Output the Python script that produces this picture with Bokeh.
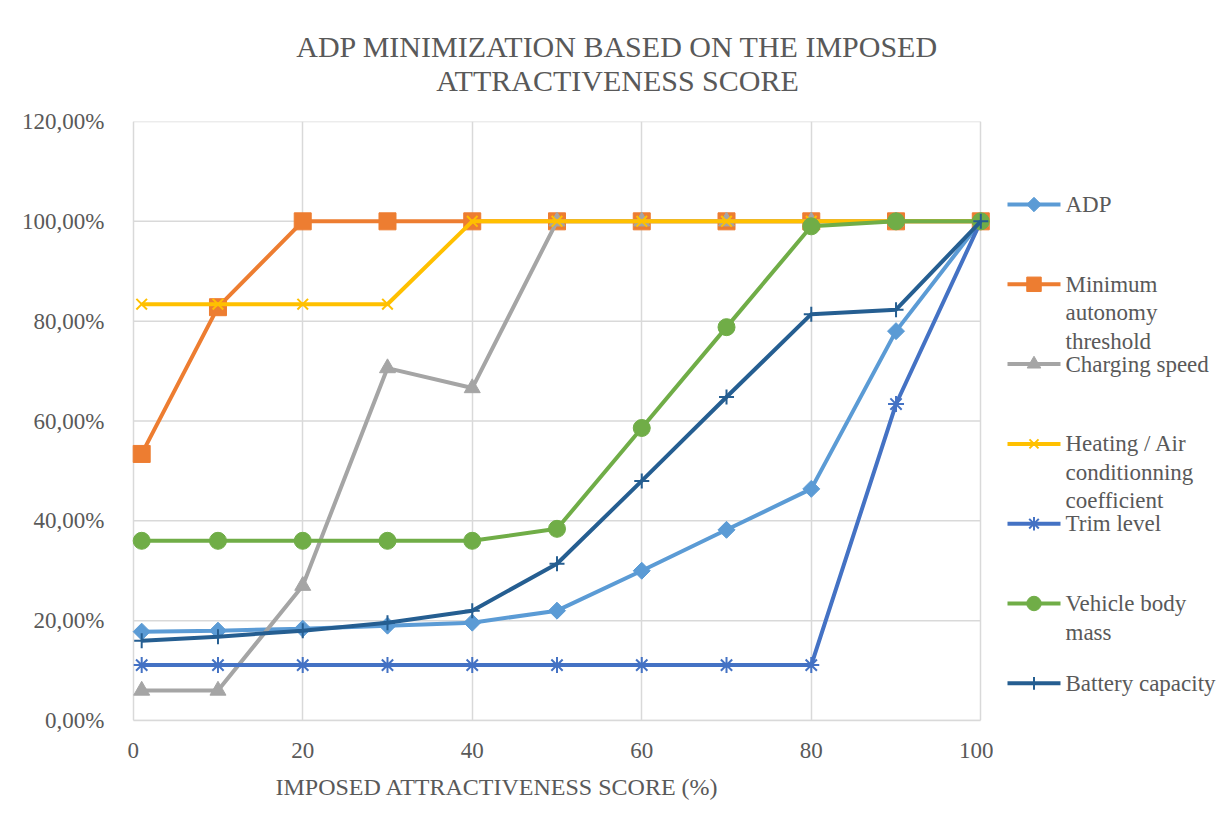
from bokeh.plotting import figure
from bokeh.models import Range1d, FixedTicker, CustomJSTickFormatter, Title
from bokeh.layouts import column, row
from bokeh.embed import file_html
from bokeh.resources import INLINE
from bokeh.core.properties import value

# ---------------- data ----------------
score = [1, 10, 20, 30, 40, 50, 60, 70, 80, 90, 100]

adp = [17.8, 18.0, 18.4, 19.0, 19.6, 22.0, 30.0, 38.2, 46.4, 78.0, 100.0]
min_autonomy = [53.4, 82.8, 100.0, 100.0, 100.0, 100.0, 100.0, 100.0, 100.0, 100.0, 100.0]
charging_speed = [6.0, 6.0, 27.0, 70.6, 66.6, 100.0, 100.0, 100.0, 100.0, 100.0, 100.0]
heating_ac = [83.4, 83.4, 83.4, 83.4, 100.0, 100.0, 100.0, 100.0, 100.0, 100.0, 100.0]
trim_level = [11.1, 11.1, 11.1, 11.1, 11.1, 11.1, 11.1, 11.1, 11.1, 63.4, 100.0]
body_mass = [36.0, 36.0, 36.0, 36.0, 36.0, 38.4, 58.6, 78.8, 99.0, 100.0, 100.0]
battery_capacity = [16.0, 16.8, 18.0, 19.6, 22.0, 31.4, 48.0, 64.8, 81.4, 82.3, 100.0]

series_names = ["ADP", "Minimum autonomy threshold", "Charging speed",
                "Heating / Air conditionning coefficient", "Trim level",
                "Vehicle body mass", "Battery capacity"]
legend_labels = ["ADP", "Minimum\nautonomy\nthreshold", "Charging speed",
                 "Heating / Air\nconditionning\ncoefficient", "Trim level",
                 "Vehicle body\nmass", "Battery capacity"]
series_values = [adp, min_autonomy, charging_speed, heating_ac, trim_level,
                 body_mass, battery_capacity]

x_ticks = [0, 20, 40, 60, 80, 100]
y_ticks = [0, 20, 40, 60, 80, 100, 120]

title_lines = ["ADP MINIMIZATION BASED ON THE IMPOSED", "ATTRACTIVENESS SCORE"]
x_title = "IMPOSED ATTRACTIVENESS SCORE (%)"

# ---------------- styles ----------------
FONT = "Liberation Serif"
TXT = "#595959"
GRID = "#d9d9d9"
colors = ["#5B9BD5", "#ED7D31", "#A5A5A5", "#FFC000", "#4472C4", "#70AD47", "#255E91"]
markers = ["square", "square", "triangle", "x", "asterisk", "circle", "cross"]
angles = [0.785398, 0, 0, 0, 0, 0, 0]
msizes = [12, 17, 16, 15, 16, 17, 15]
filled = [True, True, True, False, False, True, False]
mline = [1, 1, 1, 2, 2, 1, 2]
LINE_W = 4

# ---------------- title figure ----------------
TW, TH = 1225, 108
tf = figure(width=TW, height=TH, x_range=Range1d(0, TW), y_range=Range1d(TH, 0),
            toolbar_location=None, output_backend="svg", min_border=0)
tf.axis.visible = False
tf.grid.visible = False
tf.outline_line_color = None
tf.text(x=[617, 617], y=[46, 80], text=title_lines, text_align="center",
        text_baseline="middle", text_font=value(FONT), text_font_size="30px",
        text_color=TXT)

# ---------------- main figure ----------------
MB_TOP, MB_BOT, MH = 13, 93, 705
FH = MH - MB_TOP - MB_BOT
p = figure(width=993, height=MH, x_range=Range1d(-1.5, 101.5), y_range=Range1d(0, 120),
           toolbar_location=None, output_backend="svg",
           min_border_left=120, min_border_right=0, min_border_top=MB_TOP,
           min_border_bottom=MB_BOT)
p.outline_line_color = None

p.xaxis.ticker = FixedTicker(ticks=x_ticks)
p.yaxis.ticker = FixedTicker(ticks=y_ticks)
p.yaxis.formatter = CustomJSTickFormatter(code="return tick.toFixed(2).replace('.', ',') + '%';")
for ax in (p.xaxis[0], p.yaxis[0]):
    ax.major_tick_line_color = None
    ax.minor_tick_line_color = None
    ax.major_label_text_font = FONT
    ax.major_label_text_font_size = "23px"
    ax.major_label_text_color = TXT
p.xaxis.axis_line_color = GRID
p.xaxis.axis_line_width = 1.5
p.xaxis.bounds = (0, 100)
p.xaxis.major_label_standoff = 16
p.yaxis.axis_line_color = None
p.yaxis.major_label_standoff = 10

p.xgrid.ticker = FixedTicker(ticks=x_ticks)
p.xgrid.grid_line_color = GRID
p.xgrid.grid_line_width = 1.5
p.ygrid.visible = False
# horizontal gridlines limited to the 0..100 score span
n = len(y_ticks)
p.segment(x0=[x_ticks[0]] * n, x1=[x_ticks[-1]] * n, y0=y_ticks, y1=y_ticks,
          line_color=GRID, line_width=1.5, level="underlay")

for vals, c, m, a, s, f, ml in zip(series_values, colors, markers, angles, msizes, filled, mline):
    p.line(score, vals, line_color=c, line_width=LINE_W)
    p.scatter(score, vals, marker=m, size=s, angle=a, line_color=c, line_width=ml,
              fill_color=c if f else None)

xt = Title(text=x_title, align="left", offset=155, text_font=FONT, text_font_size="24px",
           text_font_style="normal", text_color=TXT, standoff=23)
p.add_layout(xt, "below")

# ---------------- legend figure (frame aligned with the main plot frame) ----------------
LW = 232
lf = figure(width=LW, height=MH, x_range=Range1d(0, LW), y_range=Range1d(FH, 0),
            toolbar_location=None, output_backend="svg", min_border=0,
            min_border_top=MB_TOP, min_border_bottom=MB_BOT)
lf.axis.visible = False
lf.grid.visible = False
lf.outline_line_color = None

row_y0, row_step, line_step = 83, 79.8, 28.5
for i, (lab, c, m, a, s, f, ml) in enumerate(zip(legend_labels, colors, markers, angles,
                                                   msizes, filled, mline)):
    y = row_y0 + i * row_step
    lf.segment(x0=[14], y0=[y], x1=[67], y1=[y], line_color=c, line_width=LINE_W)
    lf.scatter([40.5], [y], marker=m, size=s * 0.85, angle=a, line_color=c, line_width=ml,
               fill_color=c if f else None)
    parts = lab.split("\n")
    lf.text(x=[72] * len(parts), y=[y + k * line_step for k in range(len(parts))], text=parts,
            text_baseline="middle", text_align="left", text_font=value(FONT),
            text_font_size="23px", text_color=TXT)

layout = column(tf, row(p, lf))
open("out.html", "w").write(file_html(layout, INLINE))
